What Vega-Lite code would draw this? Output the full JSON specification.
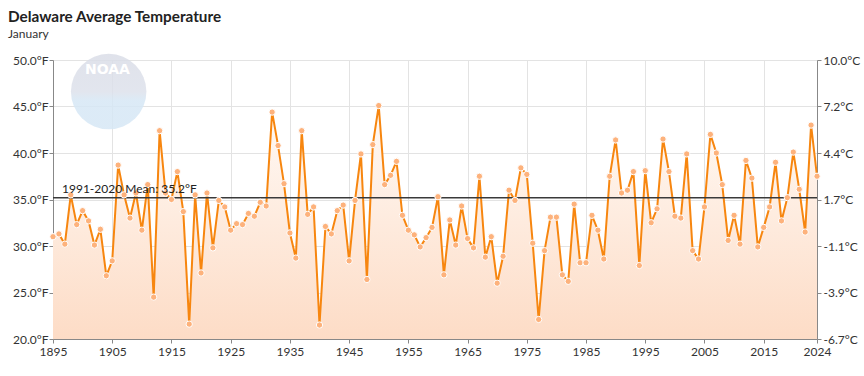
{
  "$schema": "https://vega.github.io/schema/vega-lite/v6.json",
  "autosize": "none",
  "width": 764,
  "height": 279,
  "padding": {"left": 53, "top": 60, "right": 47, "bottom": 37},
  "background": "white",
  "config": {
    "font": "Lato",
    "view": {"stroke": null},
    "axis": {"labelFont": "Lato", "labelFontSize": 12, "labelColor": "#333", "domainColor": "#888", "tickColor": "#888", "gridColor": "#e3e3e3", "tickSize": 4}
  },
  "title": {
    "text": "Delaware Average Temperature",
    "subtitle": "January",
    "anchor": "start",
    "frame": "group",
    "dx": -45,
    "offset": 14,
    "font": "Lato",
    "fontSize": 15.3,
    "fontWeight": "bold",
    "color": "#222",
    "subtitleFont": "Lato",
    "subtitleFontSize": 12,
    "subtitleColor": "#333",
    "subtitlePadding": 4
  },
  "datasets": {
    "temps": [
      {"year":1895,"temp":31.0},{"year":1896,"temp":31.3},{"year":1897,"temp":30.2},{"year":1898,"temp":35.5},{"year":1899,"temp":32.3},
      {"year":1900,"temp":33.8},{"year":1901,"temp":32.7},{"year":1902,"temp":30.1},{"year":1903,"temp":31.8},{"year":1904,"temp":26.8},
      {"year":1905,"temp":28.4},{"year":1906,"temp":38.7},{"year":1907,"temp":35.5},{"year":1908,"temp":33.0},{"year":1909,"temp":35.7},
      {"year":1910,"temp":31.7},{"year":1911,"temp":36.6},{"year":1912,"temp":24.5},{"year":1913,"temp":42.4},{"year":1914,"temp":35.7},
      {"year":1915,"temp":35.0},{"year":1916,"temp":38.0},{"year":1917,"temp":33.7},{"year":1918,"temp":21.6},{"year":1919,"temp":35.5},
      {"year":1920,"temp":27.1},{"year":1921,"temp":35.7},{"year":1922,"temp":29.8},{"year":1923,"temp":34.9},{"year":1924,"temp":34.2},
      {"year":1925,"temp":31.7},{"year":1926,"temp":32.4},{"year":1927,"temp":32.3},{"year":1928,"temp":33.5},{"year":1929,"temp":33.2},
      {"year":1930,"temp":34.7},{"year":1931,"temp":34.3},{"year":1932,"temp":44.4},{"year":1933,"temp":40.8},{"year":1934,"temp":36.7},
      {"year":1935,"temp":31.4},{"year":1936,"temp":28.7},{"year":1937,"temp":42.4},{"year":1938,"temp":33.4},{"year":1939,"temp":34.2},
      {"year":1940,"temp":21.5},{"year":1941,"temp":32.1},{"year":1942,"temp":31.3},{"year":1943,"temp":33.8},{"year":1944,"temp":34.4},
      {"year":1945,"temp":28.4},{"year":1946,"temp":34.9},{"year":1947,"temp":39.9},{"year":1948,"temp":26.4},{"year":1949,"temp":40.9},
      {"year":1950,"temp":45.1},{"year":1951,"temp":36.6},{"year":1952,"temp":37.6},{"year":1953,"temp":39.1},{"year":1954,"temp":33.3},
      {"year":1955,"temp":31.7},{"year":1956,"temp":31.2},{"year":1957,"temp":29.9},{"year":1958,"temp":30.9},{"year":1959,"temp":32.0},
      {"year":1960,"temp":35.3},{"year":1961,"temp":26.9},{"year":1962,"temp":32.8},{"year":1963,"temp":30.1},{"year":1964,"temp":34.3},
      {"year":1965,"temp":30.8},{"year":1966,"temp":29.8},{"year":1967,"temp":37.5},{"year":1968,"temp":28.8},{"year":1969,"temp":31.0},
      {"year":1970,"temp":26.0},{"year":1971,"temp":28.9},{"year":1972,"temp":36.0},{"year":1973,"temp":34.9},{"year":1974,"temp":38.4},
      {"year":1975,"temp":37.7},{"year":1976,"temp":30.3},{"year":1977,"temp":22.1},{"year":1978,"temp":29.5},{"year":1979,"temp":33.1},
      {"year":1980,"temp":33.1},{"year":1981,"temp":26.9},{"year":1982,"temp":26.2},{"year":1983,"temp":34.5},{"year":1984,"temp":28.2},
      {"year":1985,"temp":28.2},{"year":1986,"temp":33.3},{"year":1987,"temp":31.7},{"year":1988,"temp":28.6},{"year":1989,"temp":37.5},
      {"year":1990,"temp":41.4},{"year":1991,"temp":35.7},{"year":1992,"temp":36.0},{"year":1993,"temp":38.0},{"year":1994,"temp":27.9},
      {"year":1995,"temp":38.1},{"year":1996,"temp":32.5},{"year":1997,"temp":34.0},{"year":1998,"temp":41.5},{"year":1999,"temp":38.0},
      {"year":2000,"temp":33.2},{"year":2001,"temp":33.0},{"year":2002,"temp":39.9},{"year":2003,"temp":29.5},{"year":2004,"temp":28.6},
      {"year":2005,"temp":34.2},{"year":2006,"temp":42.0},{"year":2007,"temp":40.0},{"year":2008,"temp":36.6},{"year":2009,"temp":30.6},
      {"year":2010,"temp":33.3},{"year":2011,"temp":30.2},{"year":2012,"temp":39.2},{"year":2013,"temp":37.3},{"year":2014,"temp":29.9},
      {"year":2015,"temp":32.0},{"year":2016,"temp":34.2},{"year":2017,"temp":39.0},{"year":2018,"temp":32.7},{"year":2019,"temp":35.2},
      {"year":2020,"temp":40.1},{"year":2021,"temp":36.1},{"year":2022,"temp":31.5},{"year":2023,"temp":43.0},{"year":2024,"temp":37.5}
    ],
    "mean": [{"label": "1991-2020 Mean: 35.2°F", "value": 35.2}],
    "logo": [{"name": "NOAA"}]
  },
  "resolve": {"axis": {"y": "independent"}},
  "layer": [
    {
      "data": {"name": "temps"},
      "mark": {"type": "area", "color": {"gradient": "linear", "x1": 0, "y1": 0, "x2": 0, "y2": 1, "stops": [{"offset": 0, "color": "#fffaf6"}, {"offset": 1, "color": "#fddcc6"}]}},
      "encoding": {
        "x": {"field": "year", "type": "quantitative", "scale": {"domain": [1895, 2024], "nice": false, "zero": false},
              "axis": {"title": null, "format": "d", "values": [1895,1905,1915,1925,1935,1945,1955,1965,1975,1985,1995,2005,2015,2024], "grid": true, "labelPadding": 3, "labelFlush": false}},
        "y": {"field": "temp", "type": "quantitative", "scale": {"domain": [20, 50], "nice": false, "zero": false},
              "axis": {"title": null, "orient": "left", "values": [20,25,30,35,40,45,50], "grid": true, "labelExpr": "format(datum.value, '.1f') + '°F'", "labelPadding": 1}},
        "y2": {"datum": 20}
      }
    },
    {
      "data": {"name": "logo"},
      "mark": {"type": "point", "shape": "circle", "filled": true, "size": 5700, "opacity": 0.85, "color": {"gradient": "linear", "x1": 0, "y1": 0, "x2": 0, "y2": 1, "stops": [{"offset": 0, "color": "#dadde7"}, {"offset": 0.5, "color": "#dde1eb"}, {"offset": 0.62, "color": "#d6e7f5"}, {"offset": 1, "color": "#d6e7f5"}]}},
      "encoding": {
        "x": {"datum": 1904.4, "type": "quantitative"},
        "y": {"datum": 46.6, "type": "quantitative", "axis": null}
      }
    },
    {
      "data": {"name": "logo"},
      "mark": {"type": "text", "color": "white", "fontSize": 14, "fontWeight": "bold", "font": "DejaVu Sans", "baseline": "middle", "align": "center"},
      "encoding": {
        "text": {"field": "name"},
        "x": {"datum": 1904.2, "type": "quantitative"},
        "y": {"datum": 48.9, "type": "quantitative", "axis": null}
      }
    },
    {
      "data": {"name": "temps"},
      "mark": {"type": "line", "color": "#f7860f", "strokeWidth": 2},
      "encoding": {
        "x": {"field": "year", "type": "quantitative"},
        "y": {"field": "temp", "type": "quantitative", "axis": null}
      }
    },
    {
      "data": {"name": "mean"},
      "mark": {"type": "rule", "color": "#3a3a3a", "strokeWidth": 1.5},
      "encoding": {
        "y": {"field": "value", "type": "quantitative", "axis": null}
      }
    },
    {
      "data": {"name": "temps"},
      "mark": {"type": "point", "shape": "circle", "filled": true, "size": 40, "color": "#fdb27c", "stroke": "white", "strokeWidth": 1, "opacity": 1},
      "encoding": {
        "x": {"field": "year", "type": "quantitative"},
        "y": {"field": "temp", "type": "quantitative",
              "axis": {"title": null, "orient": "right", "values": [20,25,30,35,40,45,50], "grid": false, "labelExpr": "replace(format((datum.value - 32) * 5 / 9, '.1f'), '−', '-') + '°C'", "labelPadding": 2}}
      }
    },
    {
      "data": {"name": "mean"},
      "mark": {"type": "text", "align": "left", "baseline": "alphabetic", "dx": 9, "dy": -5, "fontSize": 12, "color": "#222", "font": "Lato"},
      "encoding": {
        "text": {"field": "label"},
        "x": {"datum": 1895, "type": "quantitative"},
        "y": {"field": "value", "type": "quantitative", "axis": null}
      }
    }
  ]
}
